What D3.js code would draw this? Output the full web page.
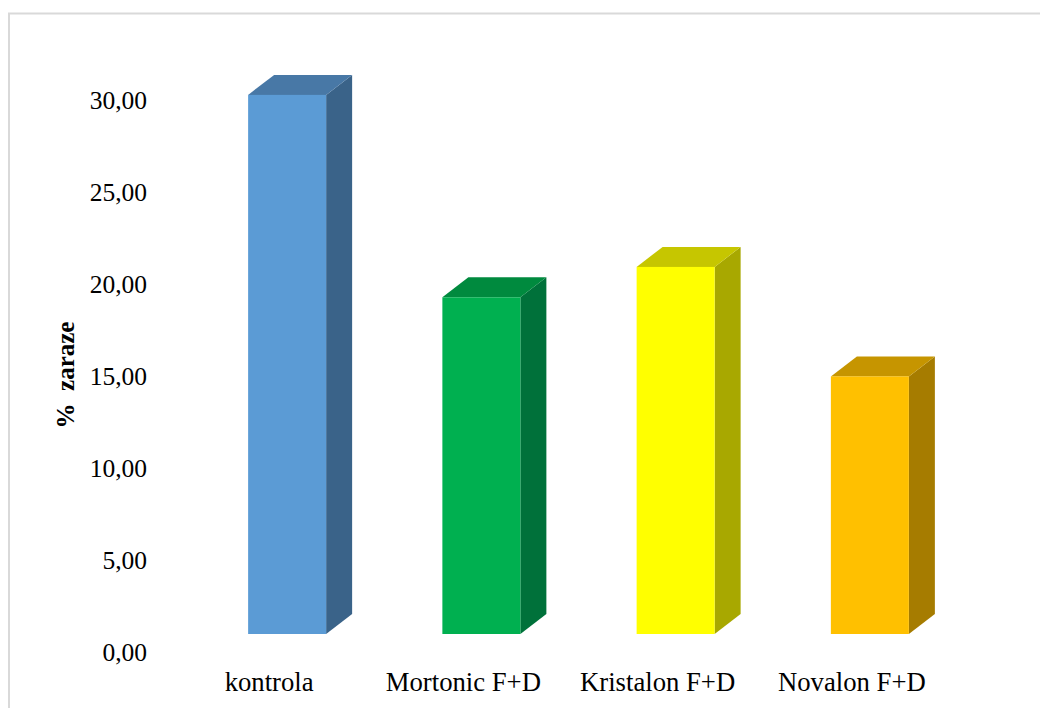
<!DOCTYPE html>
<html>
<head>
<meta charset="utf-8">
<script src="https://cdn.jsdelivr.net/npm/d3@7"></script>
<style>
    html, body { margin: 0; padding: 0; background: #fff; }
    svg { display: block; }
    text { font-family: "Liberation Serif", serif; fill: #000; }
</style>
</head>
<body>
<div id="chart"></div>
<script>
// chart values
var categories = ["kontrola", "Mortonic F+D", "Kristalon F+D", "Novalon F+D"];
var values = [29.3, 18.3, 19.95, 14.0];
var yTicks = [0, 5, 10, 15, 20, 25, 30];
var frontColors = ["#5b9bd5", "#00b050", "#ffff00", "#ffc000"];
var topColors = ["#4878a6", "#008a3e", "#c6c600", "#c69500"];
var sideColors = ["#3a6389", "#00713a", "#a8a800", "#a67c00"];

var svgWidth = 1040;
var svgHeight = 708;

var svg = d3.select("#chart")
    .append("svg")
    .attr("width", svgWidth)
    .attr("height", svgHeight);

// chart area border, runs off the right and bottom of the picture
svg.append("rect")
    .attr("x", 9)
    .attr("y", 13.5)
    .attr("width", svgWidth + 20)
    .attr("height", svgHeight + 20)
    .attr("fill", "#fff")
    .attr("stroke", "#d9d9d9")
    .attr("stroke-width", 2);

var yScale = d3.scaleLinear()
    .domain([0, 30])
    .range([652, 100]);

var xScale = d3.scaleBand()
    .domain(categories)
    .range([190, 967])
    .paddingInner(0.6)
    .paddingOuter(0.3);

// 3D look: the bars stand in front of the wall, shifted from the axis
var floorShift = 18;
var depthX = 26;
var depthY = 20;
var barWidth = 78;

var yAxis = d3.axisLeft(yScale)
    .tickValues(yTicks)
    .tickSize(0)
    .tickPadding(0)
    .tickFormat(d => d3.format(".2f")(d).replace(".", ","));

var yAxisGroup = svg.append("g")
    .attr("transform", "translate(147, 0)")
    .call(yAxis);
yAxisGroup.select(".domain").remove();
yAxisGroup.selectAll("text")
    .attr("font-size", 25.5)
    .style("font-family", "'Liberation Serif', serif");

var bars = svg.selectAll("g.bar")
    .data(categories)
    .enter()
    .append("g")
    .attr("class", "bar")
    .attr("transform", d => `translate(${xScale(d) + xScale.bandwidth() / 2 - barWidth / 2}, 0)`);

// side face
bars.append("path")
    .attr("fill", (d, i) => sideColors[i])
    .attr("d", (d, i) => {
        var top = yScale(values[i]) - floorShift;
        var bottom = yScale(0) - floorShift;
        return `M${barWidth},${top}L${barWidth + depthX},${top - depthY}L${barWidth + depthX},${bottom - depthY}L${barWidth},${bottom}Z`;
    });

// top face
bars.append("path")
    .attr("fill", (d, i) => topColors[i])
    .attr("d", (d, i) => {
        var top = yScale(values[i]) - floorShift;
        return `M0,${top}L${depthX},${top - depthY}L${barWidth + depthX},${top - depthY}L${barWidth},${top}Z`;
    });

// front face
bars.append("rect")
    .attr("x", 0)
    .attr("y", (d, i) => yScale(values[i]) - floorShift)
    .attr("width", barWidth)
    .attr("height", (d, i) => yScale(0) - yScale(values[i]))
    .attr("fill", (d, i) => frontColors[i]);

// category labels
svg.selectAll("text.cat")
    .data(categories)
    .enter()
    .append("text")
    .attr("class", "cat")
    .attr("x", d => xScale(d) + xScale.bandwidth() / 2 - 18)
    .attr("y", 691)
    .attr("text-anchor", "middle")
    .attr("font-size", 26.7)
    .text(d => d);

// y axis title
svg.append("text")
    .attr("transform", "translate(74, 375) rotate(-90)")
    .attr("text-anchor", "middle")
    .attr("font-size", 25)
    .attr("font-weight", "bold")
    .attr("xml:space", "preserve")
    .text("%  zaraze");
</script>
</body>
</html>
